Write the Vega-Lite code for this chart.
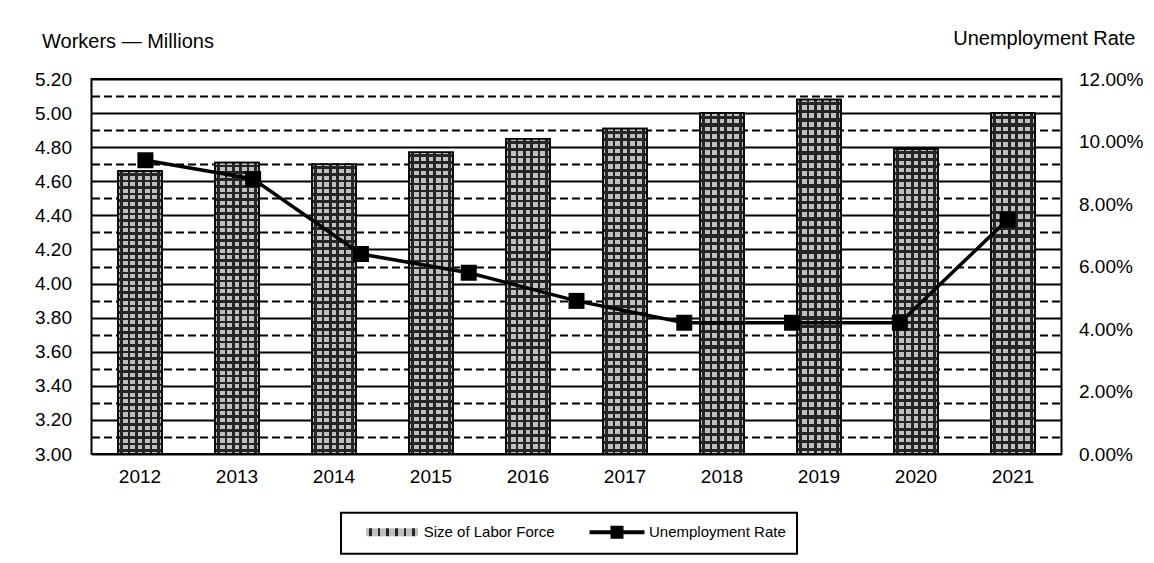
{
  "$schema": "https://vega.github.io/schema/vega-lite/v6.json",
  "width": 970,
  "height": 375,
  "autosize": {"type": "none"},
  "padding": {"left": 91.5, "top": 79, "right": 92.5, "bottom": 109},
  "background": "white",
  "datasets": {
    "labor": [
      {"year": "2012", "workers": 4.66},
      {"year": "2013", "workers": 4.71},
      {"year": "2014", "workers": 4.70},
      {"year": "2015", "workers": 4.77},
      {"year": "2016", "workers": 4.85},
      {"year": "2017", "workers": 4.91},
      {"year": "2018", "workers": 5.00},
      {"year": "2019", "workers": 5.08},
      {"year": "2020", "workers": 4.79},
      {"year": "2021", "workers": 5.00}
    ],
    "unemployment": [
      {"year": "2012", "rate": 0.094},
      {"year": "2013", "rate": 0.088},
      {"year": "2014", "rate": 0.064},
      {"year": "2015", "rate": 0.058},
      {"year": "2016", "rate": 0.049},
      {"year": "2017", "rate": 0.042},
      {"year": "2018", "rate": 0.042},
      {"year": "2019", "rate": 0.042},
      {"year": "2020", "rate": 0.075}
    ]
  },
  "config": {
    "font": "Liberation Sans",
    "view": {"stroke": "black", "strokeWidth": 2},
    "axis": {
      "labelFont": "Liberation Sans",
      "labelFontSize": 19,
      "labelColor": "black",
      "titleFont": "Liberation Sans",
      "titleFontSize": 20,
      "titleFontWeight": "normal",
      "titleColor": "black",
      "ticks": false,
      "tickSize": 0,
      "domain": false,
      "grid": false
    },
    "legend": {
      "labelFont": "Liberation Sans",
      "labelFontSize": 15,
      "labelColor": "black",
      "labelLimit": 300,
      "labelOffset": 3,
      "padding": 11,
      "direction": "horizontal",
      "strokeWidth": 2
    }
  },
  "layer": [
    {
      "data": {"name": "labor"},
      "encoding": {
        "x": {
          "field": "year",
          "type": "ordinal",
          "scale": {"paddingInner": 0.546, "paddingOuter": 0.273},
          "axis": {"title": null, "labelAngle": 0, "labelPadding": 13}
        },
        "y": {
          "field": "workers",
          "type": "quantitative",
          "scale": {"domain": [3, 5.2], "zero": false, "nice": false},
          "axis": {
            "orient": "left",
            "values": [3.0, 3.1, 3.2, 3.3, 3.4, 3.5, 3.6, 3.7, 3.8, 3.9, 4.0, 4.1, 4.2, 4.3, 4.4, 4.5, 4.6, 4.7, 4.8, 4.9, 5.0, 5.1, 5.2],
            "format": ".2f",
            "labelExpr": "round(datum.value * 10) % 2 == 0 ? datum.label : ''",
            "labelPadding": 20,
            "grid": true,
            "gridColor": "black",
            "gridOpacity": 1,
            "gridWidth": 2,
            "gridDash": {"condition": {"test": "round(datum.value * 10) % 2 == 1", "value": [8, 4]}, "value": []},
            "title": "Workers — Millions",
            "titleAngle": 0,
            "titleAlign": "left",
            "titleBaseline": "alphabetic",
            "titleX": -50,
            "titleY": -32
          }
        },
        "y2": {"datum": 3}
      },
      "layer": [
        {
          "mark": {
            "type": "bar",
            "stroke": "black",
            "strokeWidth": 1.5,
            "fill": {
              "gradient": "linear", "x1": 0, "y1": 0, "x2": 1, "y2": 0,
              "stops": [
                {"offset": 0, "color": "#c0c0c0"},
                {"offset": 0.0553, "color": "#c0c0c0"}, {"offset": 0.0553, "color": "#262626"},
                {"offset": 0.1113, "color": "#262626"}, {"offset": 0.1113, "color": "#c0c0c0"},
                {"offset": 0.222, "color": "#c0c0c0"}, {"offset": 0.222, "color": "#262626"},
                {"offset": 0.278, "color": "#262626"}, {"offset": 0.278, "color": "#c0c0c0"},
                {"offset": 0.3887, "color": "#c0c0c0"}, {"offset": 0.3887, "color": "#262626"},
                {"offset": 0.4447, "color": "#262626"}, {"offset": 0.4447, "color": "#c0c0c0"},
                {"offset": 0.5553, "color": "#c0c0c0"}, {"offset": 0.5553, "color": "#262626"},
                {"offset": 0.6113, "color": "#262626"}, {"offset": 0.6113, "color": "#c0c0c0"},
                {"offset": 0.722, "color": "#c0c0c0"}, {"offset": 0.722, "color": "#262626"},
                {"offset": 0.778, "color": "#262626"}, {"offset": 0.778, "color": "#c0c0c0"},
                {"offset": 0.8887, "color": "#c0c0c0"}, {"offset": 0.8887, "color": "#262626"},
                {"offset": 0.9447, "color": "#262626"}, {"offset": 0.9447, "color": "#c0c0c0"},
                {"offset": 1, "color": "#c0c0c0"}
              ]
            }
          },
          "encoding": {
            "opacity": {
              "datum": "Size of Labor Force",
              "type": "nominal",
              "scale": {"range": [1, 1]},
              "legend": {
                "orient": "none",
                "legendX": 301.2,
                "legendY": 433.7,
                "title": null,
                "symbolType": "M-6.16,-0.533H0.773V0.533H-6.16Z",
                "symbolSize": 225,
                "symbolOffset": 0,
                "symbolStrokeColor": "black",
                "symbolStrokeWidth": 2
              }
            }
          }
        },
        {
          "mark": {
            "type": "bar",
            "stroke": "black",
            "strokeWidth": 1.5,
            "fill": {
              "gradient": "linear", "x1": 0, "y1": 0, "x2": 0, "y2": 1,
              "stops": [
                {"offset": 0, "color": "transparent"},
                {"offset": 0.0071, "color": "transparent"}, {"offset": 0.0071, "color": "#262626"}, {"offset": 0.0161, "color": "#262626"}, {"offset": 0.0161, "color": "transparent"},
                {"offset": 0.0304, "color": "transparent"}, {"offset": 0.0304, "color": "#262626"}, {"offset": 0.0394, "color": "#262626"}, {"offset": 0.0394, "color": "transparent"},
                {"offset": 0.0536, "color": "transparent"}, {"offset": 0.0536, "color": "#262626"}, {"offset": 0.0626, "color": "#262626"}, {"offset": 0.0626, "color": "transparent"},
                {"offset": 0.0769, "color": "transparent"}, {"offset": 0.0769, "color": "#262626"}, {"offset": 0.0859, "color": "#262626"}, {"offset": 0.0859, "color": "transparent"},
                {"offset": 0.1002, "color": "transparent"}, {"offset": 0.1002, "color": "#262626"}, {"offset": 0.1092, "color": "#262626"}, {"offset": 0.1092, "color": "transparent"},
                {"offset": 0.1234, "color": "transparent"}, {"offset": 0.1234, "color": "#262626"}, {"offset": 0.1324, "color": "#262626"}, {"offset": 0.1324, "color": "transparent"},
                {"offset": 0.1467, "color": "transparent"}, {"offset": 0.1467, "color": "#262626"}, {"offset": 0.1557, "color": "#262626"}, {"offset": 0.1557, "color": "transparent"},
                {"offset": 0.1699, "color": "transparent"}, {"offset": 0.1699, "color": "#262626"}, {"offset": 0.1789, "color": "#262626"}, {"offset": 0.1789, "color": "transparent"},
                {"offset": 0.1932, "color": "transparent"}, {"offset": 0.1932, "color": "#262626"}, {"offset": 0.2022, "color": "#262626"}, {"offset": 0.2022, "color": "transparent"},
                {"offset": 0.2164, "color": "transparent"}, {"offset": 0.2164, "color": "#262626"}, {"offset": 0.2254, "color": "#262626"}, {"offset": 0.2254, "color": "transparent"},
                {"offset": 0.2397, "color": "transparent"}, {"offset": 0.2397, "color": "#262626"}, {"offset": 0.2487, "color": "#262626"}, {"offset": 0.2487, "color": "transparent"},
                {"offset": 0.2629, "color": "transparent"}, {"offset": 0.2629, "color": "#262626"}, {"offset": 0.2719, "color": "#262626"}, {"offset": 0.2719, "color": "transparent"},
                {"offset": 0.2862, "color": "transparent"}, {"offset": 0.2862, "color": "#262626"}, {"offset": 0.2952, "color": "#262626"}, {"offset": 0.2952, "color": "transparent"},
                {"offset": 0.3095, "color": "transparent"}, {"offset": 0.3095, "color": "#262626"}, {"offset": 0.3185, "color": "#262626"}, {"offset": 0.3185, "color": "transparent"},
                {"offset": 0.3327, "color": "transparent"}, {"offset": 0.3327, "color": "#262626"}, {"offset": 0.3417, "color": "#262626"}, {"offset": 0.3417, "color": "transparent"},
                {"offset": 0.3560, "color": "transparent"}, {"offset": 0.3560, "color": "#262626"}, {"offset": 0.3650, "color": "#262626"}, {"offset": 0.3650, "color": "transparent"},
                {"offset": 0.3792, "color": "transparent"}, {"offset": 0.3792, "color": "#262626"}, {"offset": 0.3882, "color": "#262626"}, {"offset": 0.3882, "color": "transparent"},
                {"offset": 0.4025, "color": "transparent"}, {"offset": 0.4025, "color": "#262626"}, {"offset": 0.4115, "color": "#262626"}, {"offset": 0.4115, "color": "transparent"},
                {"offset": 0.4257, "color": "transparent"}, {"offset": 0.4257, "color": "#262626"}, {"offset": 0.4347, "color": "#262626"}, {"offset": 0.4347, "color": "transparent"},
                {"offset": 0.4490, "color": "transparent"}, {"offset": 0.4490, "color": "#262626"}, {"offset": 0.4580, "color": "#262626"}, {"offset": 0.4580, "color": "transparent"},
                {"offset": 0.4722, "color": "transparent"}, {"offset": 0.4722, "color": "#262626"}, {"offset": 0.4812, "color": "#262626"}, {"offset": 0.4812, "color": "transparent"},
                {"offset": 0.4955, "color": "transparent"}, {"offset": 0.4955, "color": "#262626"}, {"offset": 0.5045, "color": "#262626"}, {"offset": 0.5045, "color": "transparent"},
                {"offset": 0.5188, "color": "transparent"}, {"offset": 0.5188, "color": "#262626"}, {"offset": 0.5278, "color": "#262626"}, {"offset": 0.5278, "color": "transparent"},
                {"offset": 0.5420, "color": "transparent"}, {"offset": 0.5420, "color": "#262626"}, {"offset": 0.5510, "color": "#262626"}, {"offset": 0.5510, "color": "transparent"},
                {"offset": 0.5653, "color": "transparent"}, {"offset": 0.5653, "color": "#262626"}, {"offset": 0.5743, "color": "#262626"}, {"offset": 0.5743, "color": "transparent"},
                {"offset": 0.5885, "color": "transparent"}, {"offset": 0.5885, "color": "#262626"}, {"offset": 0.5975, "color": "#262626"}, {"offset": 0.5975, "color": "transparent"},
                {"offset": 0.6118, "color": "transparent"}, {"offset": 0.6118, "color": "#262626"}, {"offset": 0.6208, "color": "#262626"}, {"offset": 0.6208, "color": "transparent"},
                {"offset": 0.6350, "color": "transparent"}, {"offset": 0.6350, "color": "#262626"}, {"offset": 0.6440, "color": "#262626"}, {"offset": 0.6440, "color": "transparent"},
                {"offset": 0.6583, "color": "transparent"}, {"offset": 0.6583, "color": "#262626"}, {"offset": 0.6673, "color": "#262626"}, {"offset": 0.6673, "color": "transparent"},
                {"offset": 0.6816, "color": "transparent"}, {"offset": 0.6816, "color": "#262626"}, {"offset": 0.6906, "color": "#262626"}, {"offset": 0.6906, "color": "transparent"},
                {"offset": 0.7048, "color": "transparent"}, {"offset": 0.7048, "color": "#262626"}, {"offset": 0.7138, "color": "#262626"}, {"offset": 0.7138, "color": "transparent"},
                {"offset": 0.7281, "color": "transparent"}, {"offset": 0.7281, "color": "#262626"}, {"offset": 0.7371, "color": "#262626"}, {"offset": 0.7371, "color": "transparent"},
                {"offset": 0.7513, "color": "transparent"}, {"offset": 0.7513, "color": "#262626"}, {"offset": 0.7603, "color": "#262626"}, {"offset": 0.7603, "color": "transparent"},
                {"offset": 0.7746, "color": "transparent"}, {"offset": 0.7746, "color": "#262626"}, {"offset": 0.7836, "color": "#262626"}, {"offset": 0.7836, "color": "transparent"},
                {"offset": 0.7978, "color": "transparent"}, {"offset": 0.7978, "color": "#262626"}, {"offset": 0.8068, "color": "#262626"}, {"offset": 0.8068, "color": "transparent"},
                {"offset": 0.8211, "color": "transparent"}, {"offset": 0.8211, "color": "#262626"}, {"offset": 0.8301, "color": "#262626"}, {"offset": 0.8301, "color": "transparent"},
                {"offset": 0.8443, "color": "transparent"}, {"offset": 0.8443, "color": "#262626"}, {"offset": 0.8533, "color": "#262626"}, {"offset": 0.8533, "color": "transparent"},
                {"offset": 0.8676, "color": "transparent"}, {"offset": 0.8676, "color": "#262626"}, {"offset": 0.8766, "color": "#262626"}, {"offset": 0.8766, "color": "transparent"},
                {"offset": 0.8909, "color": "transparent"}, {"offset": 0.8909, "color": "#262626"}, {"offset": 0.8999, "color": "#262626"}, {"offset": 0.8999, "color": "transparent"},
                {"offset": 0.9141, "color": "transparent"}, {"offset": 0.9141, "color": "#262626"}, {"offset": 0.9231, "color": "#262626"}, {"offset": 0.9231, "color": "transparent"},
                {"offset": 0.9374, "color": "transparent"}, {"offset": 0.9374, "color": "#262626"}, {"offset": 0.9464, "color": "#262626"}, {"offset": 0.9464, "color": "transparent"},
                {"offset": 0.9606, "color": "transparent"}, {"offset": 0.9606, "color": "#262626"}, {"offset": 0.9696, "color": "#262626"}, {"offset": 0.9696, "color": "transparent"},
                {"offset": 0.9839, "color": "transparent"}, {"offset": 0.9839, "color": "#262626"}, {"offset": 0.9929, "color": "#262626"}, {"offset": 0.9929, "color": "transparent"},
                {"offset": 1, "color": "transparent"}
              ]
            }
          }
        }
      ]
    },
    {
      "data": {"name": "unemployment"},
      "encoding": {
        "x": {
          "field": "year",
          "type": "ordinal",
          "scale": {"type": "point", "padding": 0.5},
          "axis": null
        },
        "y": {
          "field": "rate",
          "type": "quantitative",
          "scale": {"domain": [0, 0.12], "nice": false},
          "axis": {
            "orient": "right",
            "values": [0, 0.02, 0.04, 0.06, 0.08, 0.1, 0.12],
            "format": ".2%",
            "labelPadding": 17,
            "grid": false,
            "title": "Unemployment Rate",
            "titleAngle": 0,
            "titleAlign": "right",
            "titleBaseline": "alphabetic",
            "titleX": 73.5,
            "titleY": -35
          }
        }
      },
      "layer": [
        {"mark": {"type": "line", "color": "black", "strokeWidth": 3.5}},
        {
          "mark": {"type": "point", "shape": "square", "filled": true, "size": 256, "color": "black"},
          "encoding": {
            "opacity": {
              "datum": "Unemployment Rate",
              "type": "nominal",
              "scale": {"range": [1, 1]},
              "legend": {
                "orient": "none",
                "legendX": 249.5,
                "legendY": 433.7,
                "title": null,
                "strokeColor": "black",
                "symbolType": "M-6.4,-0.267H-3.6V-0.867H-1.867V-0.267H0.933V0.267H-1.867V0.867H-3.6V0.267H-6.4Z",
                "symbolSize": 225,
                "symbolOffset": 277,
                "symbolFillColor": "black",
                "symbolStrokeColor": "transparent"
              }
            }
          }
        }
      ]
    }
  ],
  "resolve": {
    "scale": {"x": "independent", "y": "independent", "opacity": "independent"},
    "legend": {"opacity": "independent"}
  }
}
